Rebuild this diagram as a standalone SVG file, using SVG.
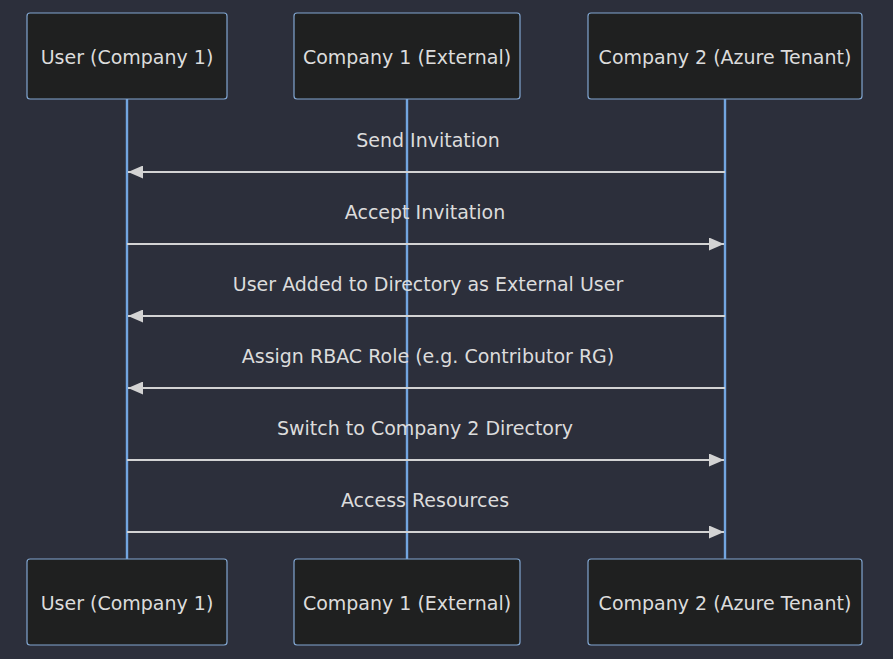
<svg xmlns="http://www.w3.org/2000/svg" width="893" height="659" viewBox="0 0 893 659">
<style>
.bg{fill:#2c2f3b}
.actor rect{fill:#1f2020;stroke:#81a6d1;stroke-width:1.2}
.actor text{fill:#dcdcdc;font-family:"DejaVu Sans",sans-serif;font-size:19px;text-anchor:middle;dominant-baseline:central}
.life{stroke:#72a5e0;stroke-width:2.4}
.msg{stroke:#d3d3d3;stroke-width:2;fill:none}
.lbl{fill:#dcdcdc;font-family:"DejaVu Sans",sans-serif;font-size:19px;text-anchor:middle;dominant-baseline:central}
</style>
<defs>
<marker id="ah" viewBox="0 0 15 13" refX="15" refY="6.5" markerWidth="15" markerHeight="13" markerUnits="userSpaceOnUse" orient="auto">
<path d="M0,0 L15,6.5 L0,13 z" fill="#d3d3d3"/>
</marker>
</defs>
<rect class="bg" x="0" y="0" width="893" height="659"/>
<g id="lifelines">
<line class="life" x1="127" y1="99" x2="127" y2="559"/>
<line class="life" x1="407" y1="99" x2="407" y2="559"/>
<line class="life" x1="725" y1="99" x2="725" y2="559"/>
</g>
<g id="user-top" class="actor"><rect x="27" y="13" width="200" height="86" rx="3"/><text x="127" y="57">User (Company 1)</text></g>
<g id="company1-top" class="actor"><rect x="294" y="13" width="226" height="86" rx="3"/><text x="407" y="57">Company 1 (External)</text></g>
<g id="company2-top" class="actor"><rect x="588" y="13" width="274" height="86" rx="3"/><text x="725" y="57">Company 2 (Azure Tenant)</text></g>
<g id="user-bottom" class="actor"><rect x="27" y="559" width="200" height="86" rx="3"/><text x="127" y="603">User (Company 1)</text></g>
<g id="company1-bottom" class="actor"><rect x="294" y="559" width="226" height="86" rx="3"/><text x="407" y="603">Company 1 (External)</text></g>
<g id="company2-bottom" class="actor"><rect x="588" y="559" width="274" height="86" rx="3"/><text x="725" y="603">Company 2 (Azure Tenant)</text></g>
<g id="connectors">
<line class="msg" x1="725" y1="172" x2="128" y2="172" marker-end="url(#ah)"/>
<text class="lbl" x="428" y="140">Send Invitation</text>
<line class="msg" x1="127" y1="244" x2="724" y2="244" marker-end="url(#ah)"/>
<text class="lbl" x="425" y="212">Accept Invitation</text>
<line class="msg" x1="725" y1="316" x2="128" y2="316" marker-end="url(#ah)"/>
<text class="lbl" x="428" y="284">User Added to Directory as External User</text>
<line class="msg" x1="725" y1="388" x2="128" y2="388" marker-end="url(#ah)"/>
<text class="lbl" x="428" y="356">Assign RBAC Role (e.g. Contributor RG)</text>
<line class="msg" x1="127" y1="460" x2="724" y2="460" marker-end="url(#ah)"/>
<text class="lbl" x="425" y="428">Switch to Company 2 Directory</text>
<line class="msg" x1="127" y1="532" x2="724" y2="532" marker-end="url(#ah)"/>
<text class="lbl" x="425" y="500">Access Resources</text>
</g>
</svg>
